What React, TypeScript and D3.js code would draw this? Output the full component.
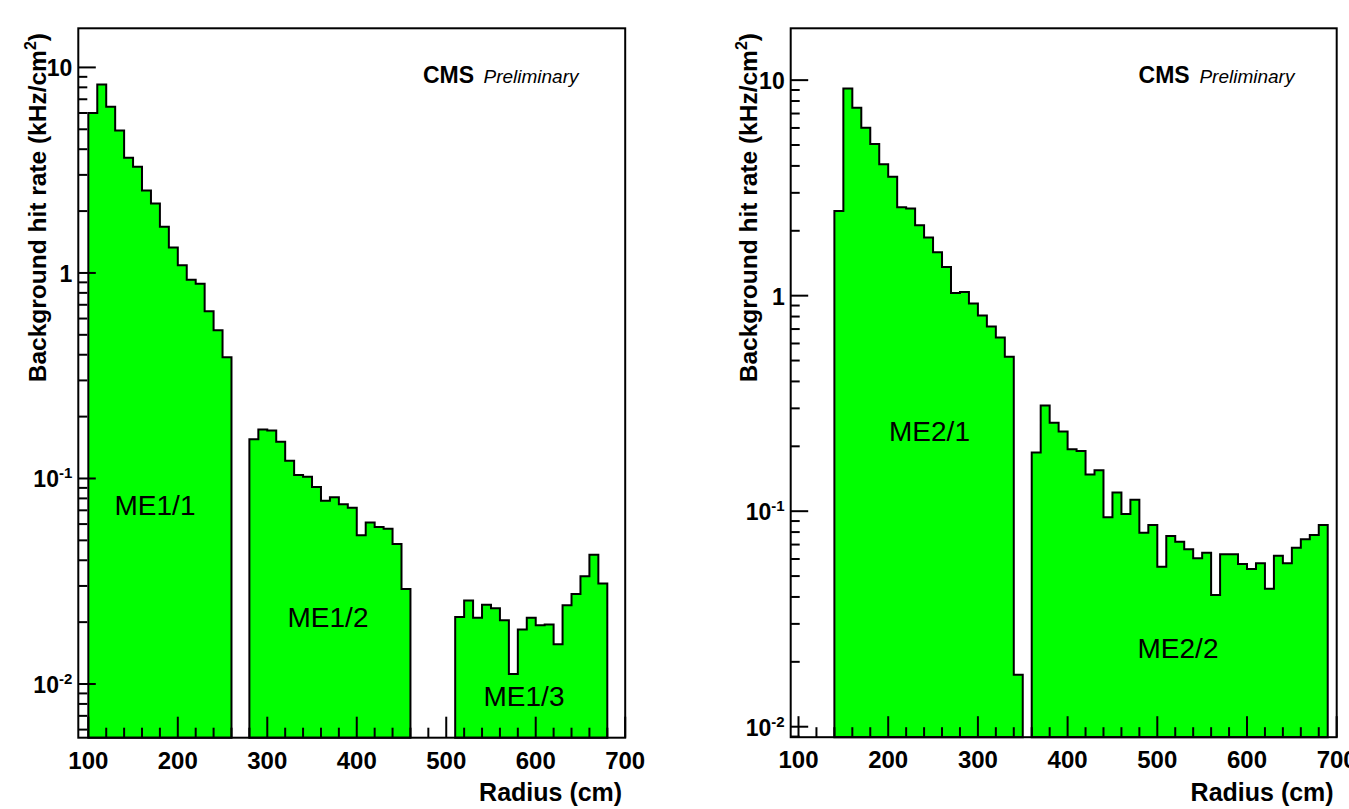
import React from "react";
import * as d3 from "d3";

// ---- data (background hit rate, kHz/cm^2, 10 cm radial bins) ----
const binWidth = 10;
const me11Start = 100;
const me11Rates = [6.0, 8.26, 6.44, 4.93, 3.63, 3.29, 2.52, 2.18, 1.68, 1.33, 1.09, 0.927, 0.885, 0.651, 0.526, 0.389];
const me12Start = 280;
const me12Rates = [0.155, 0.173, 0.171, 0.151, 0.122, 0.104, 0.102, 0.091, 0.078, 0.081, 0.075, 0.072, 0.053, 0.061, 0.058, 0.057, 0.048, 0.029];
const me13Start = 510;
const me13Rates = [0.0212, 0.0255, 0.021, 0.0243, 0.0234, 0.0204, 0.0112, 0.0184, 0.021, 0.0193, 0.0195, 0.0156, 0.0242, 0.0274, 0.0334, 0.0425, 0.0308];
const me21Start = 140;
const me21Rates = [2.47, 9.15, 7.44, 6.01, 5.05, 4.07, 3.56, 2.57, 2.54, 2.12, 1.86, 1.59, 1.36, 1.03, 1.04, 0.92, 0.81, 0.72, 0.64, 0.52, 0.0174];
const me22Start = 360;
const me22Rates = [0.187, 0.309, 0.257, 0.234, 0.194, 0.19, 0.148, 0.155, 0.0937, 0.122, 0.097, 0.113, 0.0794, 0.0863, 0.0553, 0.0768, 0.0722, 0.0666, 0.0605, 0.0642, 0.0408, 0.0631, 0.0631, 0.0569, 0.0539, 0.0573, 0.0437, 0.0622, 0.0573, 0.0677, 0.0741, 0.0776, 0.0863];

const xMajorTicks = [100, 200, 300, 400, 500, 600, 700];
const xMinorStep = 20;
const yDecades = [-3, -2, -1, 0, 1];
const yMajorTicks = [0.01, 0.1, 1, 10];
const yTickLabels: { [k: string]: [string, string] } = {
  "0.01": ["10", "-2"],
  "0.1": ["10", "-1"],
  "1": ["1", ""],
  "10": ["10", ""],
};
const xTitle = "Radius (cm)";
const yTitleMain = "Background hit rate (kHz/cm";
const chamberLabelsLeft = ["ME1/1", "ME1/2", "ME1/3"];
const chamberLabelsRight = ["ME2/1", "ME2/2"];

const FONT = "'Liberation Sans', Arial, Helvetica, sans-serif";

type Group = { start: number; rates: number[] };
type Lbl = { text: string; x: number; y: number };

type PanelProps = {
  x0: number; x1: number; y0: number; y1: number;
  xDomain: [number, number]; yDomain: [number, number];
  groups: Group[];
  labels: Lbl[];
  titleX: number;
  cmsX: number; prelimX: number;
};

function Panel(p: PanelProps) {
  const x = d3.scaleLinear().domain(p.xDomain).range([p.x0, p.x1]);
  const y = d3.scaleLog().domain(p.yDomain).range([p.y1, p.y0]);

  const paths = p.groups.map((g) => {
    const pts: [number, number][] = [];
    pts.push([x(g.start), p.y1]);
    g.rates.forEach((v, i) => {
      pts.push([x(g.start + i * binWidth), y(v)]);
      pts.push([x(g.start + (i + 1) * binWidth), y(v)]);
    });
    pts.push([x(g.start + g.rates.length * binWidth), p.y1]);
    return d3.line()(pts) + "Z";
  });

  const xMinor: number[] = [];
  for (let v = xMajorTicks[0]; v <= xMajorTicks[xMajorTicks.length - 1]; v += xMinorStep) {
    if (!xMajorTicks.includes(v) && v >= p.xDomain[0] && v <= p.xDomain[1]) xMinor.push(v);
  }
  const yMinor: number[] = [];
  yDecades.forEach((k) => {
    for (let m = 2; m <= 9; m++) {
      const v = m * Math.pow(10, k);
      if (v >= p.yDomain[0] && v <= p.yDomain[1]) yMinor.push(v);
    }
  });

  return (
    <g>
      {paths.map((d, i) => (
        <path key={i} d={d} fill="#00ff00" stroke="#000" strokeWidth={2} strokeLinejoin="miter" />
      ))}
      {p.labels.map((l, i) => (
        <text key={i} x={l.x} y={l.y} textAnchor="middle" fontFamily={FONT} fontSize={28} fill="#000">
          {l.text}
        </text>
      ))}
      <rect x={p.x0} y={p.y0} width={p.x1 - p.x0} height={p.y1 - p.y0} fill="none" stroke="#000" strokeWidth={2} />
      {xMajorTicks.filter((v) => v >= p.xDomain[0] && v <= p.xDomain[1]).map((v) => (
        <line key={"xM" + v} x1={x(v)} x2={x(v)} y1={p.y1} y2={p.y1 - 21} stroke="#000" strokeWidth={2} />
      ))}
      {xMinor.map((v) => (
        <line key={"xm" + v} x1={x(v)} x2={x(v)} y1={p.y1} y2={p.y1 - 10} stroke="#000" strokeWidth={2} />
      ))}
      {yMajorTicks.filter((v) => v >= p.yDomain[0] && v <= p.yDomain[1]).map((v) => (
        <line key={"yM" + v} x1={p.x0} x2={p.x0 + 17.5} y1={y(v)} y2={y(v)} stroke="#000" strokeWidth={2} />
      ))}
      {yMinor.map((v) => (
        <line key={"ym" + v} x1={p.x0} x2={p.x0 + 9} y1={y(v)} y2={y(v)} stroke="#000" strokeWidth={2} />
      ))}
      {xMajorTicks.map((v) => (
        <text key={"xl" + v} x={x(v)} y={p.y1 + 31} textAnchor="middle" fontFamily={FONT} fontWeight="bold" fontSize={24} fill="#000">
          {v}
        </text>
      ))}
      {yMajorTicks.filter((v) => v >= p.yDomain[0] && v <= p.yDomain[1]).map((v) => {
        const [base, exp] = yTickLabels[String(v)];
        return (
          <text key={"yl" + v} x={p.x0 - 6} y={y(v) + 9} textAnchor="end" fontFamily={FONT} fontWeight="bold" fontSize={23} fill="#000">
            {base}
            {exp ? <tspan dy={-9} fontSize={15}>{exp}</tspan> : null}
          </text>
        );
      })}
      <text x={p.x1 - 3} y={801} textAnchor="end" fontFamily={FONT} fontWeight="bold" fontSize={25} fill="#000">
        {xTitle}
      </text>
      <text transform={`translate(${p.titleX},33) rotate(-90)`} textAnchor="end" fontFamily={FONT} fontWeight="bold" fontSize={24.5} fill="#000">
        {yTitleMain}
        <tspan dy={-10} fontSize={16}>2</tspan>
        <tspan dy={10}>)</tspan>
      </text>
      <text x={p.cmsX} y={83} fontFamily={FONT} fontWeight="bold" fontSize={23} fill="#000">CMS</text>
      <text x={p.prelimX} y={83} fontFamily={FONT} fontStyle="italic" fontSize={19} fill="#000">Preliminary</text>
    </g>
  );
}

export default function App() {
  return (
    <svg
      width={1349}
      height={809}
      style={{ position: "absolute", left: 0, top: 0, background: "#fff" }}
    >
      <rect x={0} y={0} width={1349} height={809} fill="#fff" />
      <Panel
        x0={78.3} x1={625.2} y0={28.3} y1={737.7}
        xDomain={[88.8, 700]} yDomain={[0.00548, 15.5]}
        groups={[
          { start: me11Start, rates: me11Rates },
          { start: me12Start, rates: me12Rates },
          { start: me13Start, rates: me13Rates },
        ]}
        labels={[
          { text: chamberLabelsLeft[0], x: 155, y: 514.5 },
          { text: chamberLabelsLeft[1], x: 328, y: 627 },
          { text: chamberLabelsLeft[2], x: 524, y: 705.5 },
        ]}
        titleX={46}
        cmsX={423} prelimX={483.5}
      />
      <Panel
        x0={790.7} x1={1336.7} y0={28.3} y1={737.2}
        xDomain={[91.3, 700]} yDomain={[0.00894, 17.4]}
        groups={[
          { start: me21Start, rates: me21Rates },
          { start: me22Start, rates: me22Rates },
        ]}
        labels={[
          { text: chamberLabelsRight[0], x: 929.5, y: 440.5 },
          { text: chamberLabelsRight[1], x: 1178, y: 658 },
        ]}
        titleX={757}
        cmsX={1138.6} prelimX={1199.4}
      />
    </svg>
  );
}
